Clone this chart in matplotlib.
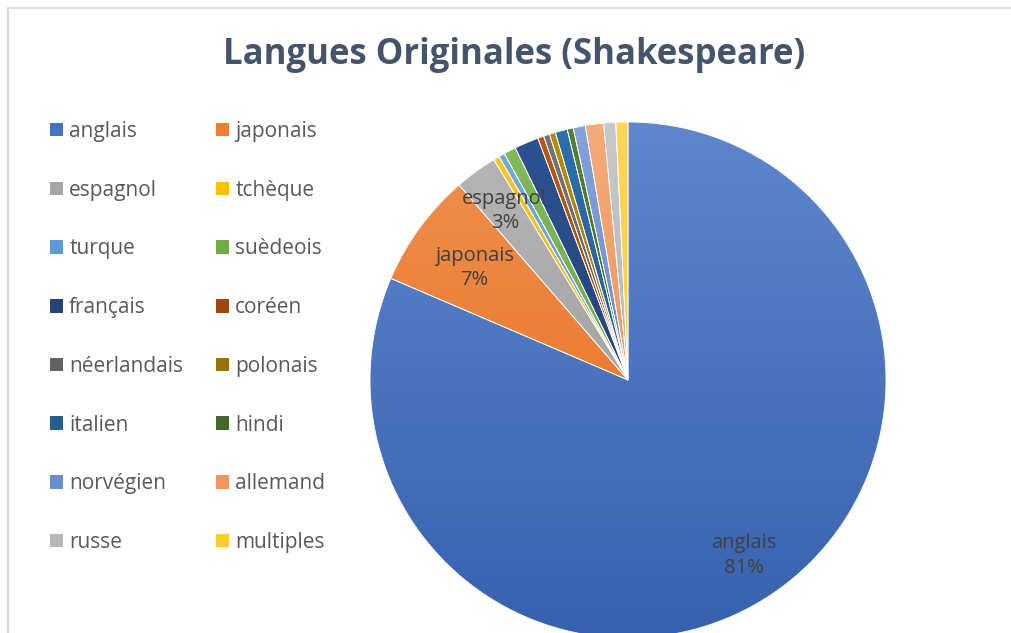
import matplotlib.pyplot as plt
from matplotlib.patches import Patch
from matplotlib.colors import LinearSegmentedColormap, to_rgb
import colorsys
import numpy as np

# nombre de films par langue originale
langues = ["anglais", "japonais", "espagnol", "tchèque", "turque", "suèdeois",
           "français", "coréen", "néerlandais", "polonais", "italien", "hindi",
           "norvégien", "allemand", "russe", "multiples"]
films = [215, 19, 7, 1, 1, 2, 4, 1, 1, 1, 2, 1, 2, 3, 2, 2]
couleurs = ["#4472C4", "#ED7D31", "#A5A5A5", "#FFC000", "#5B9BD5", "#70AD47",
            "#264478", "#9E480E", "#636363", "#997300", "#255E91", "#43682B",
            "#698ED0", "#F1975A", "#B7B7B7", "#FFCD33"]
# distance des étiquettes (fraction du rayon), seules les grosses parts
dist_etiquettes = [0.815, 0.737, 0.81]


def nuance(c, dl):
    h, l, s = colorsys.rgb_to_hls(*to_rgb(c))
    return colorsys.hls_to_rgb(h, min(1, max(0, l + dl)), s)


W, H = 1011, 633
fig = plt.figure(figsize=(W / 100, H / 100), dpi=100)
ax = fig.add_axes([0, 0, 1, 1])

cx, cy, R = 628, H - 380, 258
wedges, _ = ax.pie(films, colors=couleurs, startangle=90, counterclock=False,
                   center=(cx, cy), radius=R, frame=True,
                   wedgeprops=dict(linewidth=0.6, edgecolor="white"))
ax.set_xlim(0, W)
ax.set_ylim(0, H)
ax.set_aspect("equal")
ax.axis("off")

# dégradé vertical façon Excel dans chaque part
grad = np.linspace(0, 1, 256).reshape(-1, 1)
for w, c in zip(wedges, couleurs):
    cmap = LinearSegmentedColormap.from_list("g", [nuance(c, 0.07), nuance(c, -0.07)])
    im = ax.imshow(grad, cmap=cmap, extent=[cx - R, cx + R, cy - R, cy + R],
                   origin="upper", aspect="auto", zorder=w.get_zorder())
    im.set_clip_path(w)
    w.set_facecolor("none")
    w.set_zorder(w.get_zorder() + 0.1)
ax.set_xlim(0, W)
ax.set_ylim(0, H)

# cadre du graphique (gris clair, haut et gauche)
ax.plot([7.5, 7.5, W], [0, H - 7.5, H - 7.5], color="#D9D9D9", lw=1.5)

total = sum(films)
for w, nom, v, d in zip(wedges, langues, films, dist_etiquettes):
    th = np.deg2rad((w.theta1 + w.theta2) / 2)
    ax.text(cx + d * R * np.cos(th), cy + d * R * np.sin(th),
            f"{nom}\n{round(100 * v / total)}%", ha="center", va="center",
            fontsize=14.5, color="#404040", family="Open Sans",
            linespacing=1.3, zorder=5)

fig.text(0.509, 1 - 55 / H, "Langues Originales (Shakespeare)", ha="center",
         va="center", fontsize=25, fontweight="bold", color="#44546A",
         family="Open Sans")

handles = [Patch(facecolor=c, edgecolor="none") for c in couleurs]
for col, x0 in enumerate([50, 216]):
    idx = list(range(col, len(langues), 2))
    fig.legend([handles[i] for i in idx], [langues[i] for i in idx],
               loc="upper left", bbox_to_anchor=(x0 / W, 1 - 121 / H),
               frameon=False, borderpad=0, borderaxespad=0,
               handlelength=0.62, handleheight=0.62, handletextpad=0.3,
               labelspacing=1.81, prop=dict(family="Open Sans", size=15),
               labelcolor="#595959")

fig.savefig("out.png", dpi=100)
